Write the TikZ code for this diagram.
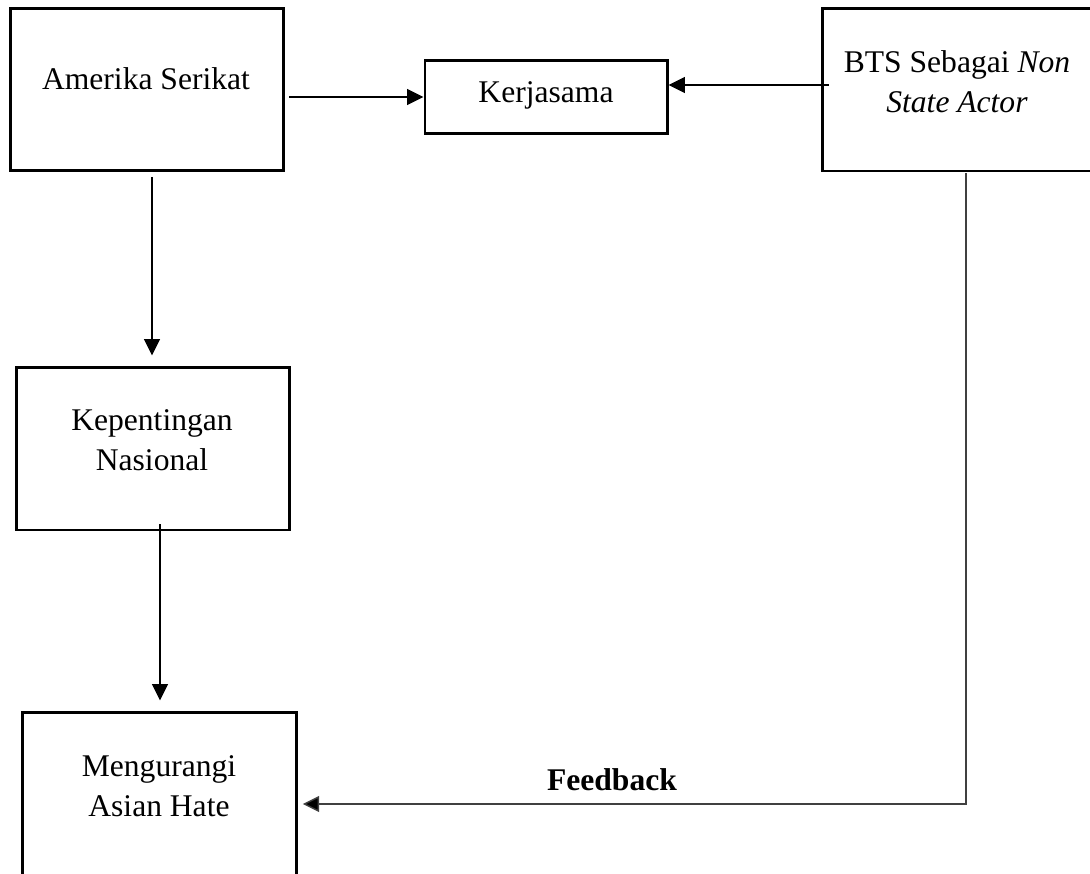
\documentclass[tikz,border=0pt]{standalone}
\usepackage{fontspec}
\setmainfont{Liberation Serif}
\usetikzlibrary{positioning}
\usetikzlibrary{arrows.meta}
\usetikzlibrary{calc}

\begin{document}
\begin{tikzpicture}[x=0.38pt, y=-0.38pt]

          \tikzstyle{boxNode} = [draw, line width=1.1pt, minimum width=104pt, minimum height=61.6pt];
          \tikzstyle{textNode} = [align=center, font=\fontsize{12}{15.2}\selectfont];
          \tikzstyle{normalEdge} = [line width=0.6pt, -{Triangle[length=6.2pt, width=6pt]}];
          \tikzstyle{feedbackEdge} = [line width=0.55pt, draw=black!75, -{Triangle[length=6.2pt, width=6pt, fill=black]}];

          \clip (0,0) rectangle (1090,874);

          \node[boxNode] (as) at (147,89.5) {};
          \node[boxNode, minimum width=92pt, minimum height=28pt] (kerja) at (546,97) {};
          \node[boxNode] (bts) at (959,90) {};
          \node[boxNode] (kn) at (153,449) {};
          \node[boxNode] (asian) at (159.5,794) {};

          \node[textNode] (asText) at (146,79) {Amerika Serikat};
          \node[textNode] (kerjaText) at (546,95) {Kerjasama};
          \node[textNode] (btsText) at (957,82) {BTS Sebagai \textit{Non}\\\textit{State Actor}};
          \node[textNode] (knText) at (152,440) {Kepentingan\\Nasional};
          \node[textNode] (asianText) at (159,786) {Mengurangi\\Asian Hate};
          \node[textNode, font=\fontsize{12}{15.2}\selectfont\bfseries] (fb) at (612,780) {Feedback};

          \draw[normalEdge] ($(as.east |- kerja.west)+(4,0)$) -- (kerja.west);
          \draw[normalEdge] ($(bts.west)+(8,-5)$) -- ($(kerja.east)+(0,-12)$);
          \draw[normalEdge] ($(as.south)+(5,5)$) -- ($(kn.north)+(-1,-11)$);
          \draw[normalEdge] ($(kn.south)+(7,-7)$) -- ($(asian.north)+(0.5,-11)$);
          \draw[feedbackEdge] ($(bts.south)+(7,1)$) |- ($(asian.east)+(5,10)$);
        \end{tikzpicture}
\end{document}
